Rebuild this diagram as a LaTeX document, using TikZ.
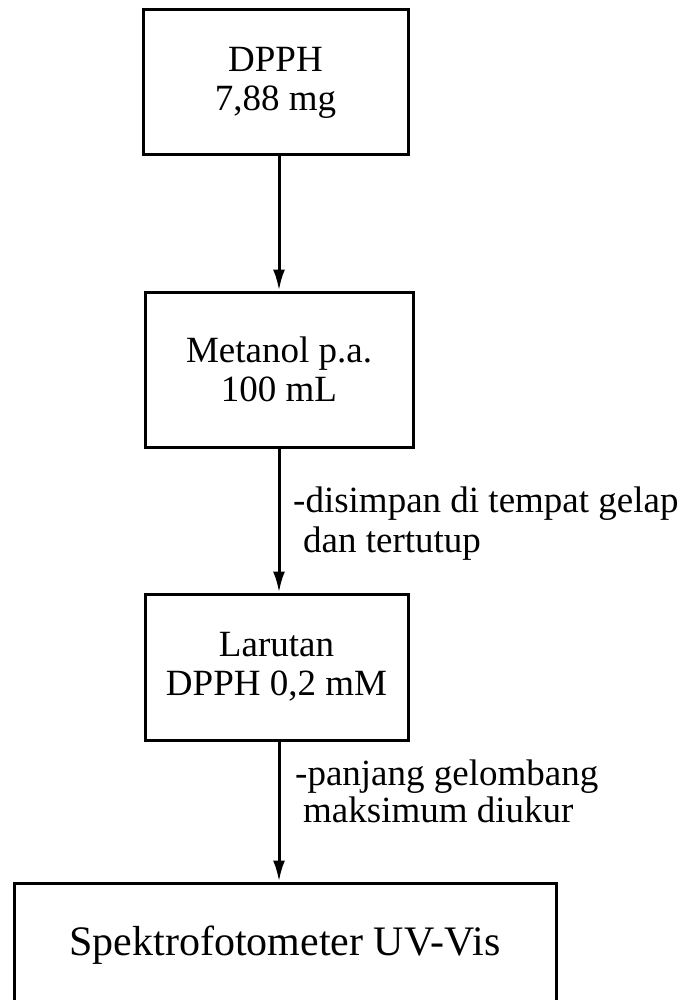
\documentclass[tikz,border=0pt]{standalone}
\usepackage{fontspec}
\setmainfont{Liberation Serif}
\usetikzlibrary{arrows.meta}
\begin{document}
\begin{tikzpicture}[x=1pt,y=-1pt,
  box/.style={draw=black,line width=3pt,rectangle,inner sep=0pt,align=center,
    font=\fontsize{37}{39}\selectfont},
  lbl/.style={anchor=base west,inner sep=0pt,font=\fontsize{37}{39}\selectfont},
  arr/.style={line width=3pt,-{Latex[length=21pt,width=12pt]}}]
\useasboundingbox (0,0) rectangle (687,1000);
\clip (0,0) rectangle (687,1000);
\node[box,minimum width=265pt,minimum height=145pt] (b1) at (275.5,82.5) {DPPH\\7,88 mg};
\node[box,minimum width=268pt,minimum height=155pt] (b2) at (279,369.5) {Metanol p.a.\\100 mL};
\node[box,minimum width=263pt,minimum height=146pt] (b3) at (276.5,667) {Larutan\\DPPH 0,2 mM};
\node[box,minimum width=542pt,minimum height=124pt,font=\fontsize{42}{44}\selectfont] (b4) at (285,945) {Spektrofotometer UV-Vis};
\coordinate (ax) at (279,0);
\draw[arr] (b1.south -| ax) -- (b2.north -| ax);
\draw[arr] (b2.south -| ax) -- (b3.north -| ax);
\draw[arr] (b3.south -| ax) -- (b4.north -| ax);
\node[lbl] (l1a) at (293,512) {-disimpan di tempat gelap};
\node[lbl] (l1b) at (303,552) {dan tertutup};
\node[lbl] (l2a) at (295,785) {-panjang gelombang};
\node[lbl] (l2b) at (303,822) {maksimum diukur};
\end{tikzpicture}
\end{document}
